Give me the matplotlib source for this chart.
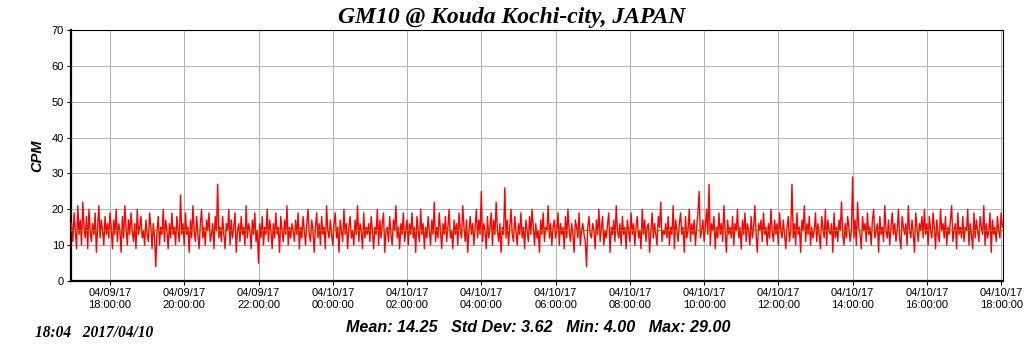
import datetime as dt
import matplotlib
matplotlib.use("Agg")
import matplotlib.pyplot as plt
import matplotlib.dates as mdates

# counts per minute, one reading every 2 minutes from 2017/04/09 16:58
start = dt.datetime(2017, 4, 9, 16, 58)
step_min = 2
cpm = [
    16,11,19,14,9,21,13,17,10,22,15,12,18,9,20,14,11,16,13,19,8,15,21,12,17,14,10,18,13,16,
    12,19,15,9,17,13,20,11,16,14,8,18,12,21,15,10,17,13,19,14,11,16,9,20,13,15,18,12,14,10,
    17,13,11,19,15,9,16,12,4,14,18,10,15,13,20,11,17,14,9,16,12,19,13,15,10,18,14,11,24,13,
    16,10,19,13,15,8,17,12,21,14,11,18,13,9,16,20,12,15,10,17,14,19,11,13,16,9,18,14,27,12,
    15,11,18,13,9,16,14,20,10,17,12,15,19,8,14,16,11,18,13,15,10,21,12,16,14,9,17,13,19,11,
    14,5,16,12,18,10,15,13,20,11,17,14,9,16,12,19,13,15,8,18,14,11,17,13,21,10,15,12,16,14,
    11,17,13,19,9,15,12,18,14,10,16,20,13,11,17,14,8,15,19,12,16,10,18,13,15,9,21,14,12,17,
    13,10,16,19,12,15,8,17,14,11,20,13,16,9,15,18,12,14,10,17,13,21,11,16,14,9,19,12,15,13,
    16,11,18,14,9,15,13,20,10,17,12,16,19,8,14,15,11,18,13,10,17,14,21,12,15,9,16,13,19,11,
    14,17,10,16,13,19,12,15,8,18,14,11,20,13,16,9,15,12,18,14,10,17,13,22,11,15,12,19,14,9,
    16,13,18,11,15,20,12,14,9,17,13,16,10,19,14,12,21,15,11,17,8,14,18,13,16,10,15,20,12,17,
    13,25,11,16,14,9,18,12,15,19,10,17,13,22,14,11,16,8,15,13,26,12,17,10,15,20,13,11,18,14,
    10,16,13,19,12,15,9,17,14,11,18,13,20,15,10,16,12,14,8,17,13,19,11,15,14,21,12,16,10,15,
    17,12,14,19,10,16,13,15,9,18,12,20,14,11,16,13,8,17,15,12,19,10,14,16,13,11,4,15,18,13,
    12,16,14,9,17,13,20,11,15,18,10,14,12,16,19,8,15,13,17,11,21,14,12,16,10,18,13,15,9,17,
    14,11,19,13,16,10,15,18,12,14,9,20,13,17,11,15,16,8,14,19,12,16,13,10,18,15,22,11,14,13,
    16,12,18,10,15,13,21,9,17,14,11,16,19,13,15,8,18,12,14,20,11,16,13,17,10,15,19,25,12,14,
    17,11,15,20,13,27,10,16,14,18,9,15,12,19,13,16,11,21,14,8,17,13,15,12,18,10,16,14,20,12,
    15,9,17,13,19,11,16,14,10,18,12,15,21,13,8,16,14,17,11,19,13,15,10,16,12,20,14,11,17,13,
    16,10,19,14,12,17,13,9,15,18,11,14,27,12,16,10,19,13,15,8,17,14,21,11,16,13,18,10,15,12,
    14,19,11,16,13,9,18,15,12,20,10,17,14,13,16,8,19,12,15,11,17,14,22,13,10,16,12,18,15,11,
    14,29,12,17,10,22,15,13,9,18,14,16,11,19,13,15,10,17,20,12,14,16,8,18,13,15,11,21,14,12,
    17,10,15,19,13,16,11,14,20,12,9,18,15,13,16,10,21,14,12,17,13,8,19,15,11,16,14,18,12,20,
    13,16,10,18,14,12,19,15,9,17,13,11,20,14,16,12,18,10,15,13,17,21,11,14,16,9,19,13,15,12,
    18,11,15,14,20,10,16,13,9,19,12,17,14,11,18,15,13,21,10,16,12,14,19,8,17,13,15,11,18,14,
    12,19,15,16,
]
mean_cpm = 14.25
stats_text = "Mean: 14.25   Std Dev: 3.62   Min: 4.00   Max: 29.00"
stamp_text = "18:04   2017/04/10"
title_text = "GM10 @ Kouda Kochi-city, JAPAN"

times = [start + dt.timedelta(minutes=step_min * i) for i in range(len(cpm))]

fig = plt.figure(figsize=(10.24, 3.51), dpi=100)
ax = fig.add_axes([71 / 1024, 1 - 281 / 351, 932 / 1024, 251 / 351])

ax.plot(times, cpm, color='#ff0000', lw=1.0, zorder=3)
ax.axhline(mean_cpm, color='#9a7a00', lw=0.9, zorder=4)

ax.set_ylim(0, 70)
ax.set_yticks(range(0, 71, 10))
ax.set_xlim(dt.datetime(2017, 4, 9, 16, 57), dt.datetime(2017, 4, 10, 18, 3))
ax.xaxis.set_major_locator(mdates.HourLocator(byhour=range(0, 24, 2)))
ax.xaxis.set_major_formatter(mdates.DateFormatter('%m/%d/%y\n%H:%M:%S'))

ax.grid(True, color='#b4b4b4', lw=0.75)
ax.set_axisbelow(True)
for s in ['left', 'bottom']:
    ax.spines[s].set_linewidth(1.6)
for s in ['top', 'right']:
    ax.spines[s].set_linewidth(0.8)

ax.tick_params(axis='both', labelsize=8, length=3, width=0.8, pad=2)
for lab in ax.get_xticklabels() + ax.get_yticklabels():
    lab.set_family('Liberation Sans')
for lab in ax.get_xticklabels():
    lab.set_linespacing(1.25)

ax.set_ylabel('CPM', fontsize=10.5, fontweight='bold', fontstyle='italic',
              family='Liberation Sans', labelpad=5)

fig.text(0.5, 1 - 17 / 351, title_text, ha='center', va='center', fontsize=17,
         fontweight='bold', fontstyle='italic', family='Liberation Serif')
fig.text(538 / 1024, 1 - 327 / 351, stats_text, ha='center', va='center',
         fontsize=11.6, fontweight='bold', fontstyle='italic', family='Liberation Sans')
fig.text(35 / 1024, 1 - 333 / 351, stamp_text, ha='left', va='center',
         fontsize=11.2, fontweight='bold', fontstyle='italic', family='Liberation Serif')

fig.savefig('out.png', dpi=100)
